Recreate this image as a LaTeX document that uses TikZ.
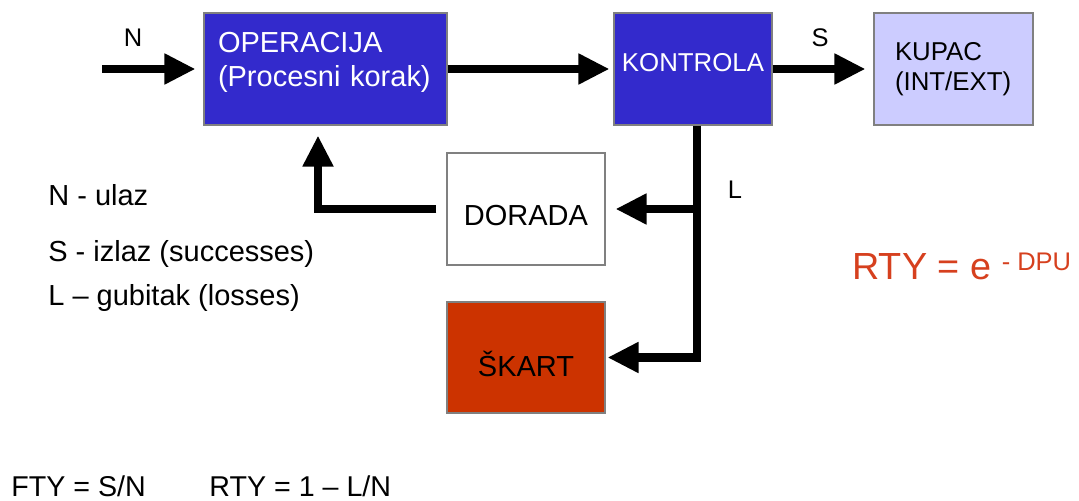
\documentclass[tikz,border=0pt]{standalone}
\usepackage{fontspec}
\setmainfont{Liberation Sans}
\usetikzlibrary{arrows.meta}

\definecolor{opblue}{RGB}{51,42,204}
\definecolor{kupacblue}{RGB}{204,204,255}
\definecolor{skartred}{RGB}{204,51,0}
\definecolor{rtyred}{RGB}{214,64,30}

\begin{document}
\begin{tikzpicture}[
	box/.style={draw=black!50, line width=0.6pt, minimum width=3.16cm, minimum height=2.24cm, inner sep=0pt, font=\fontsize{16.5}{19.8}\selectfont},
	flow/.style={line width=0.17cm, -{Triangle[length=0.62cm,width=0.58cm]}},
	lbl/.style={inner sep=0pt, font=\fontsize{14.5}{17}\selectfont},
	legend/.style={anchor=base west, inner sep=0pt, font=\fontsize{16.5}{19.8}\selectfont}]
	\useasboundingbox (0,0) rectangle (21.58,-10.02);

	\node[box, fill=opblue, text=white, minimum width=4.86cm, text width=4.3cm, inner xsep=0.28cm](OP) at (6.51,-1.38){\raisebox{0.13cm}[\height][\depth]{\begin{tabular}{@{}l@{}}OPERACIJA\\(Procesni korak)\end{tabular}}};
	\node[box, fill=opblue, text=white, right of=OP, node distance=7.35cm, font=\fontsize{14.7}{17}\selectfont](KON){\raisebox{0.13cm}[\height][\depth]{KONTROLA}};
	\node[box, fill=kupacblue, right of=KON, node distance=5.21cm, text width=2.34cm, inner xsep=0.42cm, align=left, font=\fontsize{14.7}{17}\selectfont](KUP){KUPAC\\(INT/EXT)};
	\node[box, fill=white, below of=KON, node distance=2.8cm, xshift=-3.34cm](DOR){\raisebox{-0.14cm}[\height][\depth]{DORADA}};
	\node[box, fill=skartred, below of=DOR, node distance=2.97cm, minimum height=2.22cm](SK){\raisebox{-0.12cm}[\height][\depth]{ŠKART}};

	\coordinate[left of=OP, node distance=4.47cm](NIN);
	\coordinate (KD) at ([xshift=0.08cm]KON.south);
	\coordinate (UP) at ([xshift=-0.15cm]OP.south);

	\draw[flow, shorten >=0.16cm] (NIN) -- (OP);
	\draw[flow, shorten >=0.08cm] (OP) -- (KON);
	\draw[flow, shorten >=0.16cm] (KON) -- (KUP);
	\draw[flow, shorten >=0.04cm] (KD) |- (SK.east);
	\draw[flow, shorten >=0.2cm] (KD |- DOR.east) -- (DOR.east);
	\draw[flow, shorten <=0.2cm, shorten >=0.2cm] (DOR.west) -| (UP);

	\node[lbl](N) at (2.66,-0.76){N};
	\node[lbl](S) at (16.4,-0.76){S};
	\node[lbl](L) at (14.7,-3.8){L};

	\node[legend](LN) at (0.96,-4.12){N - ulaz};
	\node[legend](LS) at (0.96,-5.23){S - izlaz (successes)};
	\node[legend](LL) at (0.96,-6.1){L – gubitak (losses)};

	\node[anchor=base west, inner sep=0pt, text=rtyred, font=\fontsize{21.5}{26}\selectfont](RTY) at (17.04,-5.6){RTY = e \raisebox{0.2cm}{\fontsize{14.5}{17}\selectfont - DPU}};

	\node[legend, font=\fontsize{16.3}{19.5}\selectfont](FTY) at (0.22,-9.92){FTY = S/N};
	\node[legend, font=\fontsize{16.3}{19.5}\selectfont](RTYL) at (4.18,-9.92){RTY = 1 – L/N};
\end{tikzpicture}
\end{document}
